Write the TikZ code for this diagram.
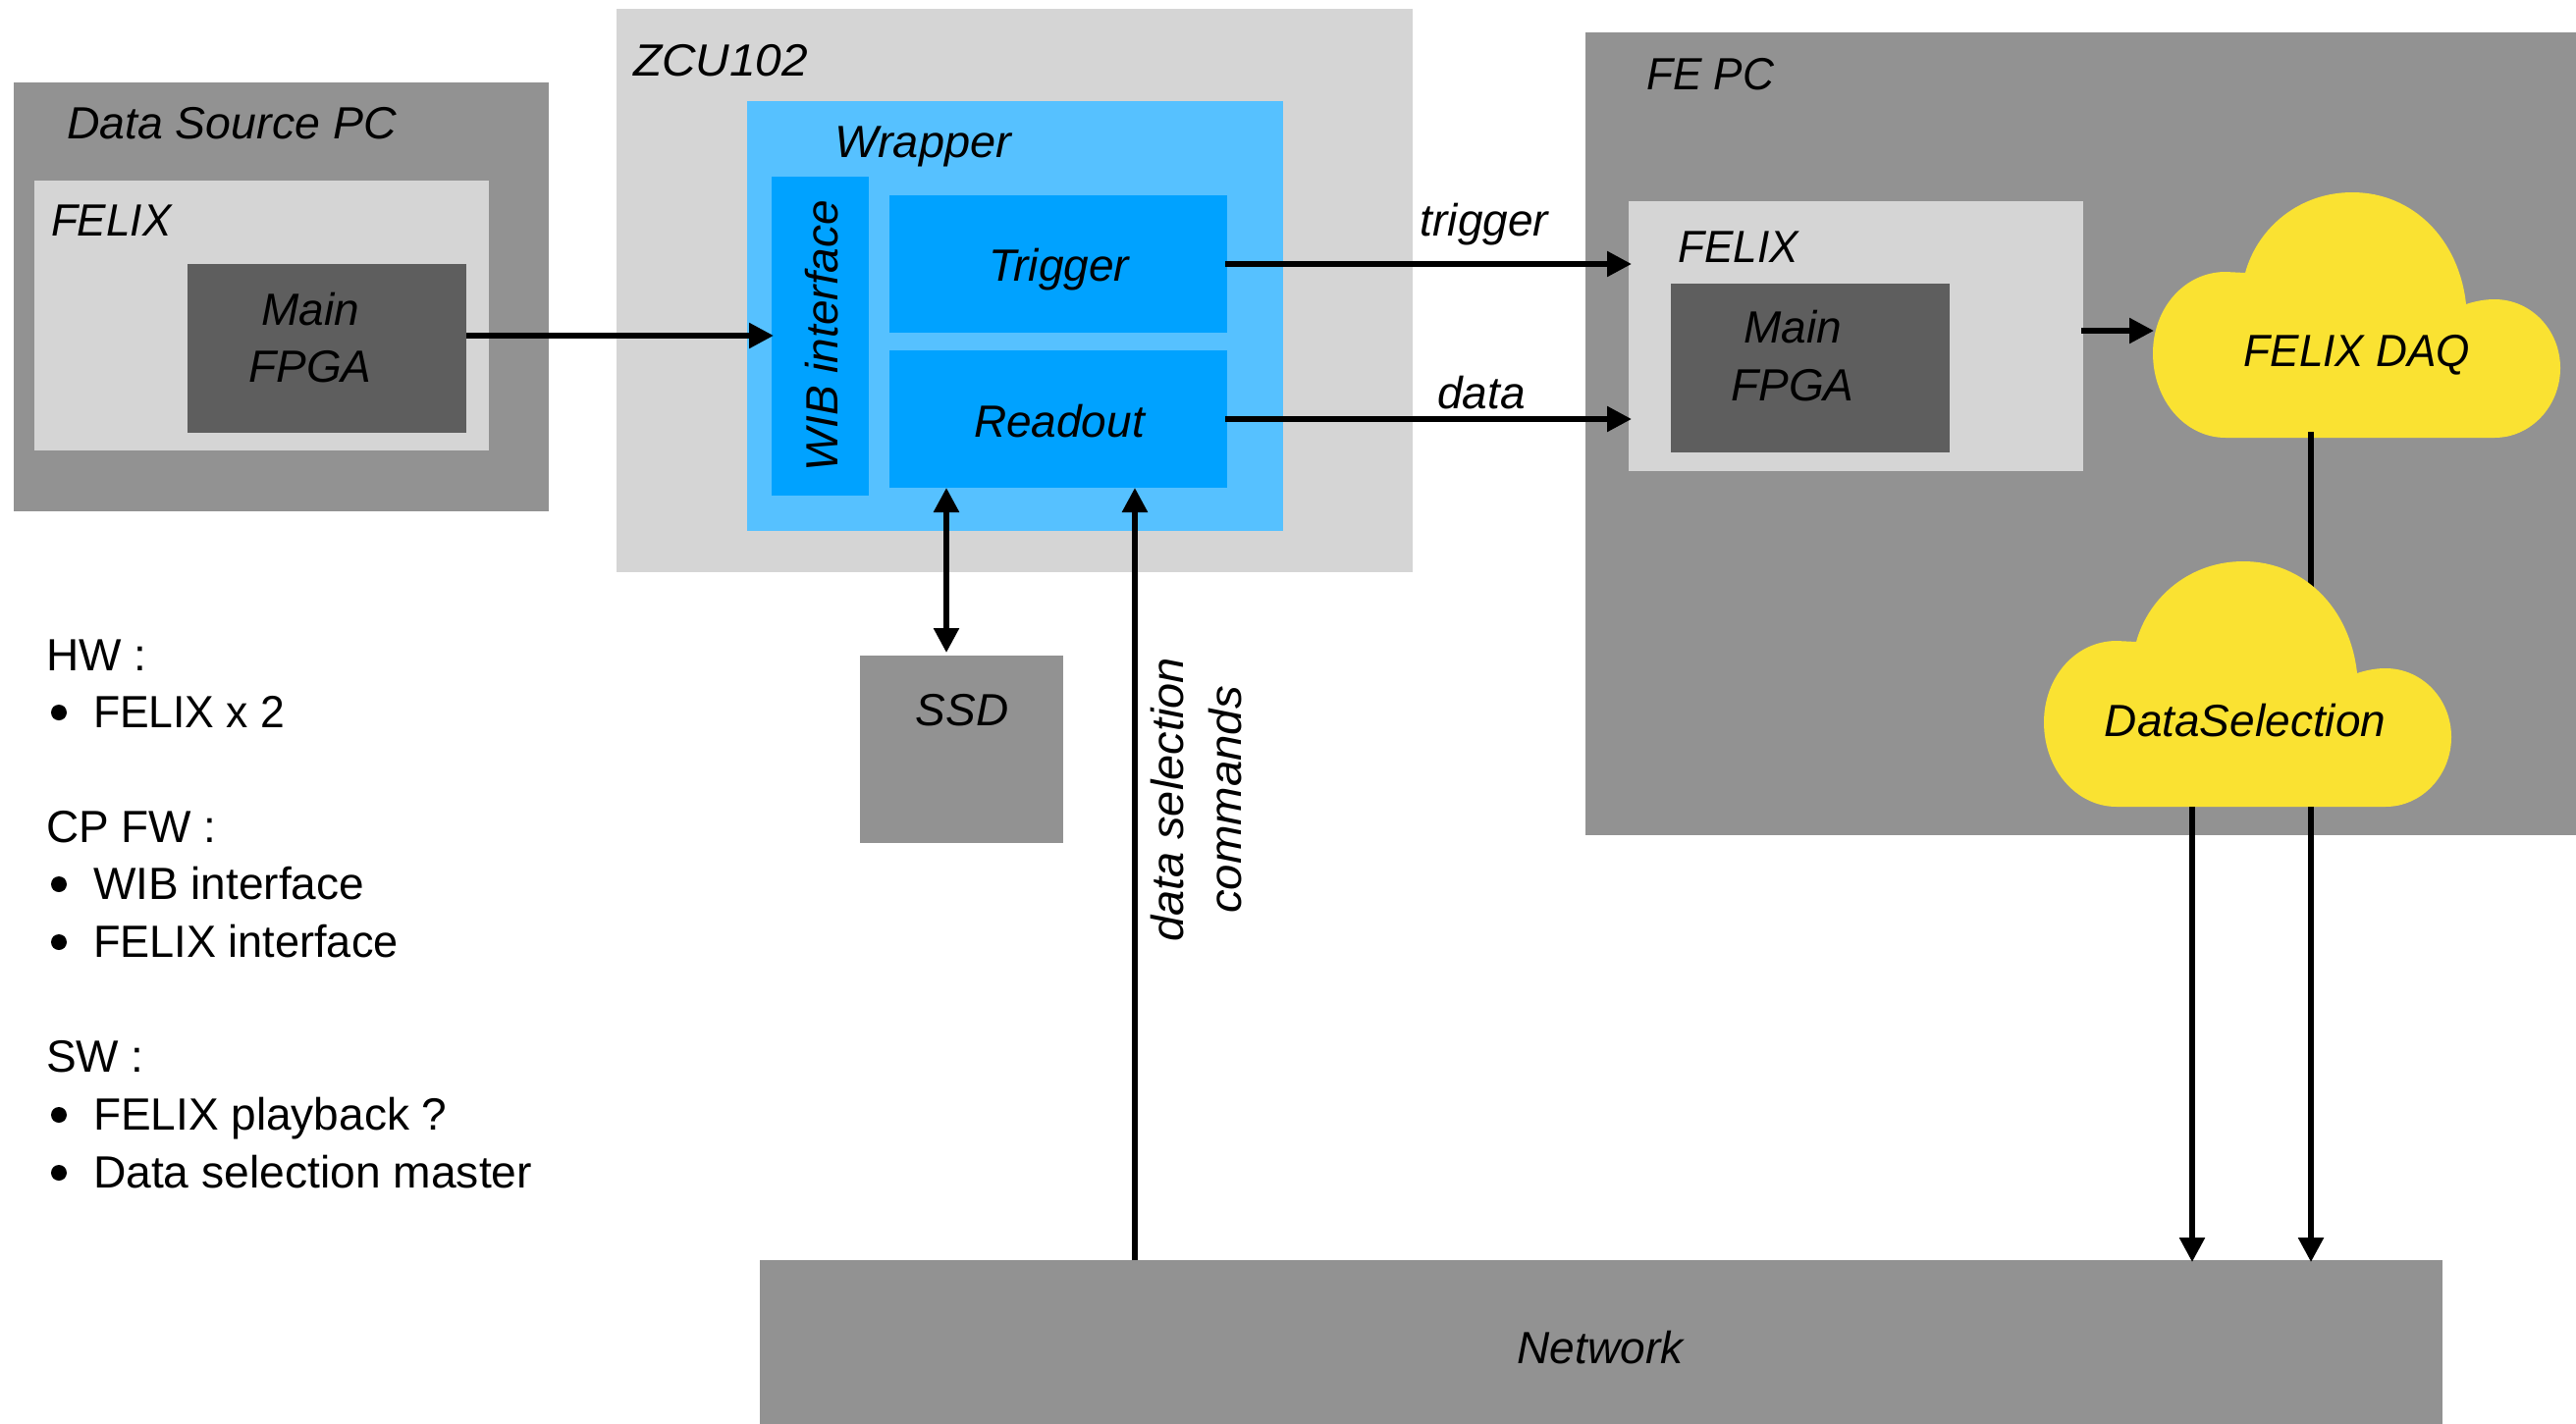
\documentclass[tikz,border=0pt]{standalone}
\usepackage{graphicx}
\usepackage{fontspec}
\setmainfont{Liberation Sans}
\usetikzlibrary{arrows.meta}
\definecolor{gdark}{HTML}{929292}
\definecolor{glight}{HTML}{D5D5D5}
\definecolor{gfpga}{HTML}{5E5E5E}
\definecolor{bwrap}{HTML}{56C1FF}
\definecolor{binner}{HTML}{00A2FF}
\definecolor{ycloud}{HTML}{FAE232}
\newcommand\sx[2]{\scalebox{#1}[1]{#2}}
\tikzset{
  boxbase/.style={anchor=north west,inner sep=0pt,outer sep=0pt,draw=none},
  boxdark/.style={boxbase,fill=gdark},
  boxlight/.style={boxbase,fill=glight},
  boxfpga/.style={boxbase,fill=gfpga},
  boxwrap/.style={boxbase,fill=bwrap},
  boxinner/.style={boxbase,fill=binner},
  cloudframe/.style={boxbase,minimum width=415pt,minimum height=250pt},
  txt/.style={inner sep=0pt,outer sep=0pt,font=\fontsize{46}{46}\selectfont\itshape},
  txtl/.style={txt,anchor=base west},
  txtc/.style={txt,anchor=base},
  lst/.style={inner sep=0pt,outer sep=0pt,anchor=base west,font=\fontsize{46}{46}\selectfont},
  dotmark/.style={circle,fill=black,inner sep=0pt,outer sep=0pt,minimum size=16pt},
  conn/.style={line width=5.6pt,black},
  arr/.style={conn,-{Stealth[length=25pt,width=25pt,inset=0pt]}},
  darr/.style={conn,{Stealth[length=25pt,width=25pt,inset=0pt]}-{Stealth[length=25pt,width=25pt,inset=0pt]}},
}
\def\cloudpath{(74,250) .. controls (33,250) and (0,212) .. (0,164)
  .. controls (0,117) and (33,81) .. (74,81) -- (94,82)
  .. controls (107,35) and (150,0) .. (203,0)
  .. controls (265,0) and (312,48) .. (319,114)
  .. controls (328,111) and (338,109) .. (348,109)
  .. controls (385,109) and (415,140) .. (415,179)
  .. controls (415,218) and (385,250) .. (348,250) -- cycle}
\begin{document}
\begin{tikzpicture}[x=1pt,y=-1pt]
\useasboundingbox (0,0) rectangle (2624,1451);
% boxes
\node[boxdark,minimum width=545pt,minimum height=437pt] (dsp) at (14,84) {};
\node[boxlight,minimum width=463pt,minimum height=275pt] (felixa) at (35,184) {};
\node[boxfpga,minimum width=284pt,minimum height=172pt] (fpgaa) at (191,269) {};
\node[boxlight,minimum width=811pt,minimum height=574pt] (zcu) at (628,9) {};
\node[boxwrap,minimum width=546pt,minimum height=438pt] (wrap) at (761,103) {};
\node[boxinner,minimum width=99pt,minimum height=325pt] (wib) at (786,180) {};
\node[boxinner,minimum width=344pt,minimum height=140pt] (trig) at (906,199) {};
\node[boxinner,minimum width=344pt,minimum height=140pt] (read) at (906,357) {};
\node[boxdark,minimum width=1009pt,minimum height=818pt] (fepc) at (1615,33) {};
\node[boxlight,minimum width=463pt,minimum height=275pt] (felixb) at (1659,205) {};
\node[boxfpga,minimum width=284pt,minimum height=172pt] (fpgab) at (1702,289) {};
\node[boxdark,minimum width=207pt,minimum height=191pt] (ssd) at (876,668) {};
\node[boxdark,minimum width=1714pt,minimum height=167pt] (net) at (774,1284) {};
% routing coordinates
\coordinate (ya) at (0,342);
\coordinate (yb) at (0,337);
\coordinate (xa) at (964,0);
\coordinate (xb) at (1156,0);
\coordinate (xc) at (2354,0);
\coordinate (xd) at (2233,0);
% clouds
\fill[ycloud,shift={(2193,196)}] \cloudpath;
\node[cloudframe] (daq) at (2193,196) {};
\coordinate (daqfoot) at (2354,440);
\node[cloudframe] (ds) at (2082,572) {};
\draw[conn] (daqfoot) -- (ds.center -| daqfoot);
\fill[ycloud,shift={(2082,572)}] \cloudpath;
% connectors
\draw[arr] (fpgaa.east |- ya) -- ([xshift=2pt]wib.west |- ya);
\draw[arr] ([xshift=-2pt]trig.east) -- ([xshift=3pt]trig.east -| felixb.west);
\draw[arr] ([xshift=-2pt]read.east) -- ([xshift=3pt]read.east -| felixb.west);
\draw[arr] ([xshift=-2pt]felixb.east |- yb) -- ([xshift=1pt]daq.west |- yb);
\draw[darr] (read.south -| xa) -- ([yshift=3pt]ssd.north -| xa);
\draw[arr] (net.north -| xb) -- (read.south -| xb);
\draw[arr] (ds.south -| xc) -- ([yshift=-2pt]net.north -| xc);
\draw[arr] (ds.south -| xd) -- ([yshift=-2pt]net.north -| xd);
% labels
\node[txtl] (tdsp) at (68,141) {\sx{1.01}{Data Source PC}};
\node[txtl] (tfelixa) at (52,240) {\sx{0.96}{FELIX}};
\node[txtc] (tmaina) at (316,331) {Main};
\node[txtc] (tfpgaa) at (316,389) {FPGA};
\node[txtl] (tzcu) at (645,77) {\sx{1.04}{ZCU102}};
\node[txtl] (twrap) at (850,160) {\sx{1.02}{Wrapper}};
\node[txtc,rotate=90] (twib) at (853,342) {WIB interface};
\node[txtc] (ttrig) at (1079,286) {Trigger};
\node[txtc] (tread) at (1079,445) {Readout};
\node[txtc] (ttrigger) at (1512,240) {trigger};
\node[txtc] (tdata) at (1509,416) {data};
\node[txtl] (tfepc) at (1677,91) {\sx{0.96}{FE PC}};
\node[txtl] (tfelixb) at (1709,267) {\sx{0.96}{FELIX}};
\node[txtc] (tmainb) at (1826,349) {Main};
\node[txtc] (tfpgab) at (1826,408) {FPGA};
\node[txtc] (tdaq) at (2401,373) {\sx{0.96}{FELIX DAQ}};
\node[txtc] (tds) at (2287,750) {DataSelection};
\node[txtc] (tssd) at (980,739) {SSD};
\node[txtc] (tnet) at (1630,1389) {Network};
\node[txtc,rotate=90] (tsel) at (1205,815) {\sx{1.02}{data selection}};
\node[txtc,rotate=90] (tcmd) at (1264,815) {\sx{1.03}{commands}};
% list
\node[lst] (l1) at (47,683) {HW :};
\node[dotmark] (b2) at (60,726) {};
\node[lst] (l2) at (95,741) {\sx{0.967}{FELIX x 2}};
\node[lst] (l3) at (47,858) {CP FW :};
\node[dotmark] (b4) at (60,901) {};
\node[lst] (l4) at (95,916) {WIB interface};
\node[dotmark] (b5) at (60,960) {};
\node[lst] (l5) at (95,975) {\sx{0.98}{FELIX interface}};
\node[lst] (l6) at (47,1092) {SW :};
\node[dotmark] (b7) at (60,1136) {};
\node[lst] (l7) at (95,1151) {FELIX playback ?};
\node[dotmark] (b8) at (60,1195) {};
\node[lst] (l8) at (95,1210) {\sx{1.005}{Data selection master}};
\end{tikzpicture}
\end{document}
